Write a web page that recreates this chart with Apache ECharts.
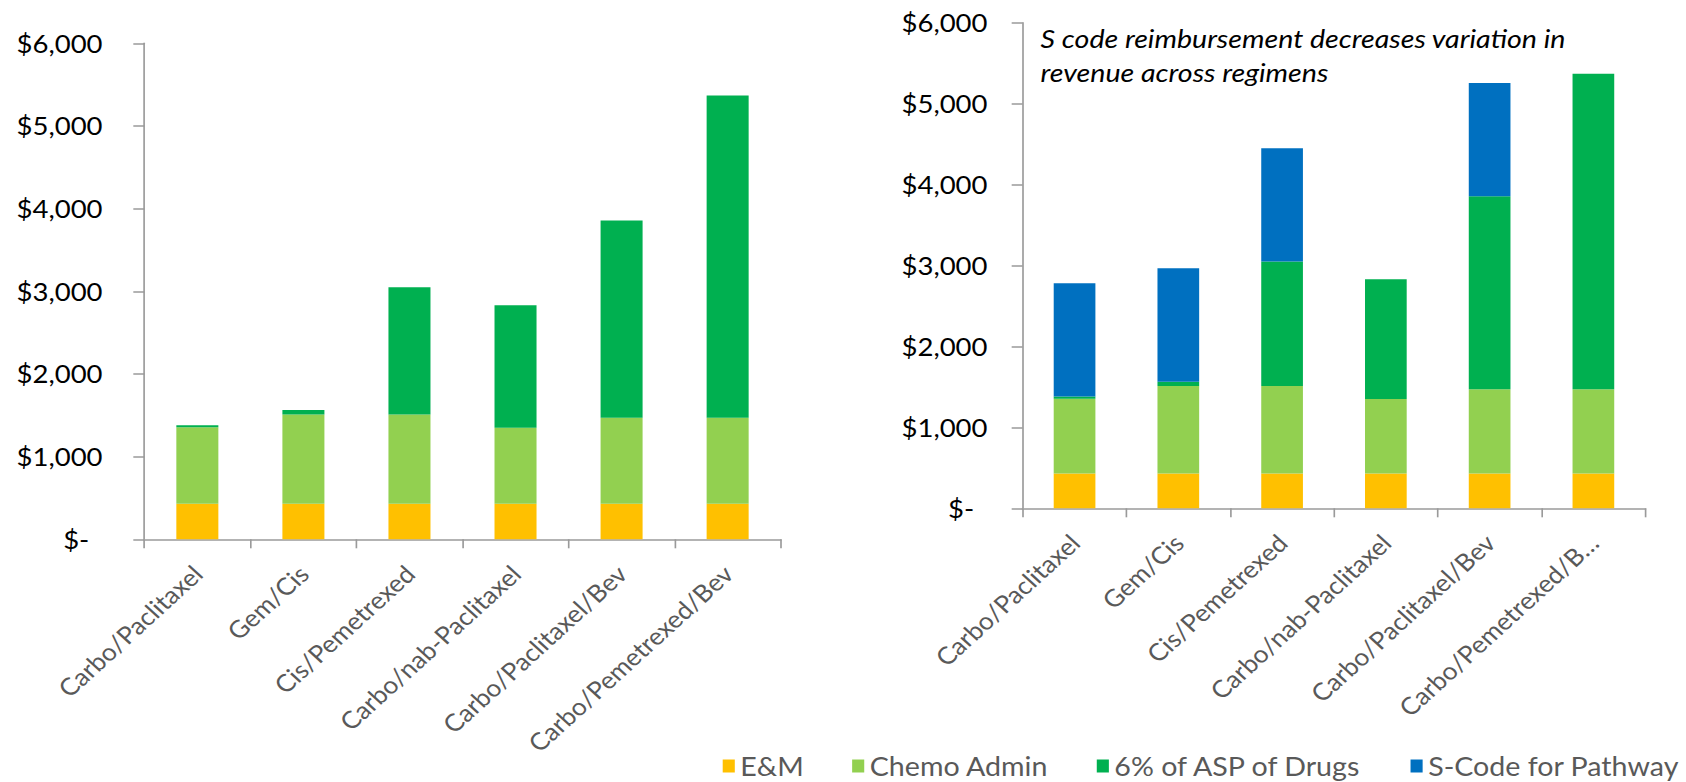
<!DOCTYPE html>
<html>
<head>
<meta charset="utf-8">
<script src="https://cdn.jsdelivr.net/npm/echarts@6/dist/echarts.min.js"></script>
<style>
  html, body { margin: 0; padding: 0; background: #fff; overflow: hidden; }
  #chart { height: 782px; transform-origin: 0 0; }
</style>
</head>
<body>
<div id="chart"></div>
<script>
// Regimens on the category axis
const categories = ['Carbo/Paclitaxel', 'Gem/Cis', 'Cis/Pemetrexed', 'Carbo/nab-Paclitaxel', 'Carbo/Paclitaxel/Bev', 'Carbo/Pemetrexed/Bev'];
// Tick labels of the right panel (the last one is clipped)
const rightTickLabels = ['Carbo/Paclitaxel', 'Gem/Cis', 'Cis/Pemetrexed', 'Carbo/nab-Paclitaxel', 'Carbo/Paclitaxel/Bev', 'Carbo/Pemetrexed/B\u2026'];

// Revenue components per regimen, in dollars
const emValues = [430, 430, 430, 430, 430, 430];
const chemoAdminValues = [925, 1080, 1080, 920, 1040, 1040];
const aspValues = [25, 55, 1540, 1480, 2385, 3900];
const sCodeValues = [1400, 1400, 1400, '-', 1400, '-'];

const seriesNames = ['E&M', 'Chemo Admin', '6% of ASP of Drugs', 'S-Code for Pathway'];
const colors = ['#FFC000', '#92D050', '#00B050', '#0070C0'];

// The drawing is laid out narrower and widened horizontally by this factor
const STRETCH = 1.1;
const W = 1686 / STRETCH;
const el = document.getElementById('chart');
el.style.width = W + 'px';
el.style.transform = 'scaleX(' + STRETCH + ')';

const chart = echarts.init(el, null, { renderer: 'svg' });

function yAxisFor(gridIndex, margin) {
  return {
    type: 'value', gridIndex: gridIndex, min: 0, max: 6000, interval: 1000,
    splitLine: { show: false },
    axisLine: { show: true, lineStyle: { color: '#9a9a9a', width: 1.5 } },
    axisTick: { show: true, length: 10, lineStyle: { color: '#9a9a9a', width: 1.5 } },
    axisLabel: {
      margin: margin, fontSize: 25, color: '#000', fontFamily: 'Lato',
      formatter: v => v === 0 ? '{z|$-}' : '$' + v.toLocaleString('en-US'),
      rich: { z: { fontSize: 25, color: '#000', fontFamily: 'Lato', padding: [0, 12, 0, 0] } }
    }
  };
}

function xAxisFor(gridIndex, labels) {
  return {
    type: 'category', gridIndex: gridIndex, data: categories,
    axisLine: { show: true, lineStyle: { color: '#b3b3b3', width: 2 } },
    axisTick: { show: true, length: 9, lineStyle: { color: '#9a9a9a', width: 1.5 } },
    axisLabel: {
      interval: 0, rotate: 45, margin: 30, fontSize: 24, color: '#595959', fontFamily: 'Lato',
      formatter: (v, i) => labels[i]
    }
  };
}

function bar(name, data, idx, color, stack, width) {
  return {
    name: name, type: 'bar', stack: stack, data: data,
    xAxisIndex: idx, yAxisIndex: idx, barWidth: width,
    itemStyle: { color: color }
  };
}

const option = {
  animation: false,
  textStyle: { fontFamily: 'Lato' },
  grid: [
    { left: 131.2, top: 43.3, width: 578.5, height: 496 },
    { left: 929.7, top: 22.7, width: 566, height: 485.6 }
  ],
  xAxis: [xAxisFor(0, categories), xAxisFor(1, rightTickLabels)],
  yAxis: [yAxisFor(0, 38), yAxisFor(1, 32)],
  legend: {
    data: seriesNames, left: 652, top: 748, width: 1000, itemGap: 44,
    icon: 'rect', itemWidth: 11, itemHeight: 13,
    textStyle: { fontSize: 26, color: '#595959', fontFamily: 'Lato' }
  },
  graphic: [{
    type: 'text', left: 946, top: 21,
    style: {
      text: 'S code reimbursement decreases variation in\nrevenue across regimens',
      font: 'italic 26px Lato', fill: '#000', lineHeight: 34
    }
  }],
  series: [
    bar(seriesNames[0], emValues, 0, colors[0], 'left', 38.2),
    bar(seriesNames[1], chemoAdminValues, 0, colors[1], 'left', 38.2),
    bar(seriesNames[2], aspValues, 0, colors[2], 'left', 38.2),
    bar(seriesNames[0], emValues, 1, colors[0], 'right', 37.9),
    bar(seriesNames[1], chemoAdminValues, 1, colors[1], 'right', 37.9),
    bar(seriesNames[2], aspValues, 1, colors[2], 'right', 37.9),
    bar(seriesNames[3], sCodeValues, 1, colors[3], 'right', 37.9)
  ]
};
chart.setOption(option);
</script>
</body>
</html>
